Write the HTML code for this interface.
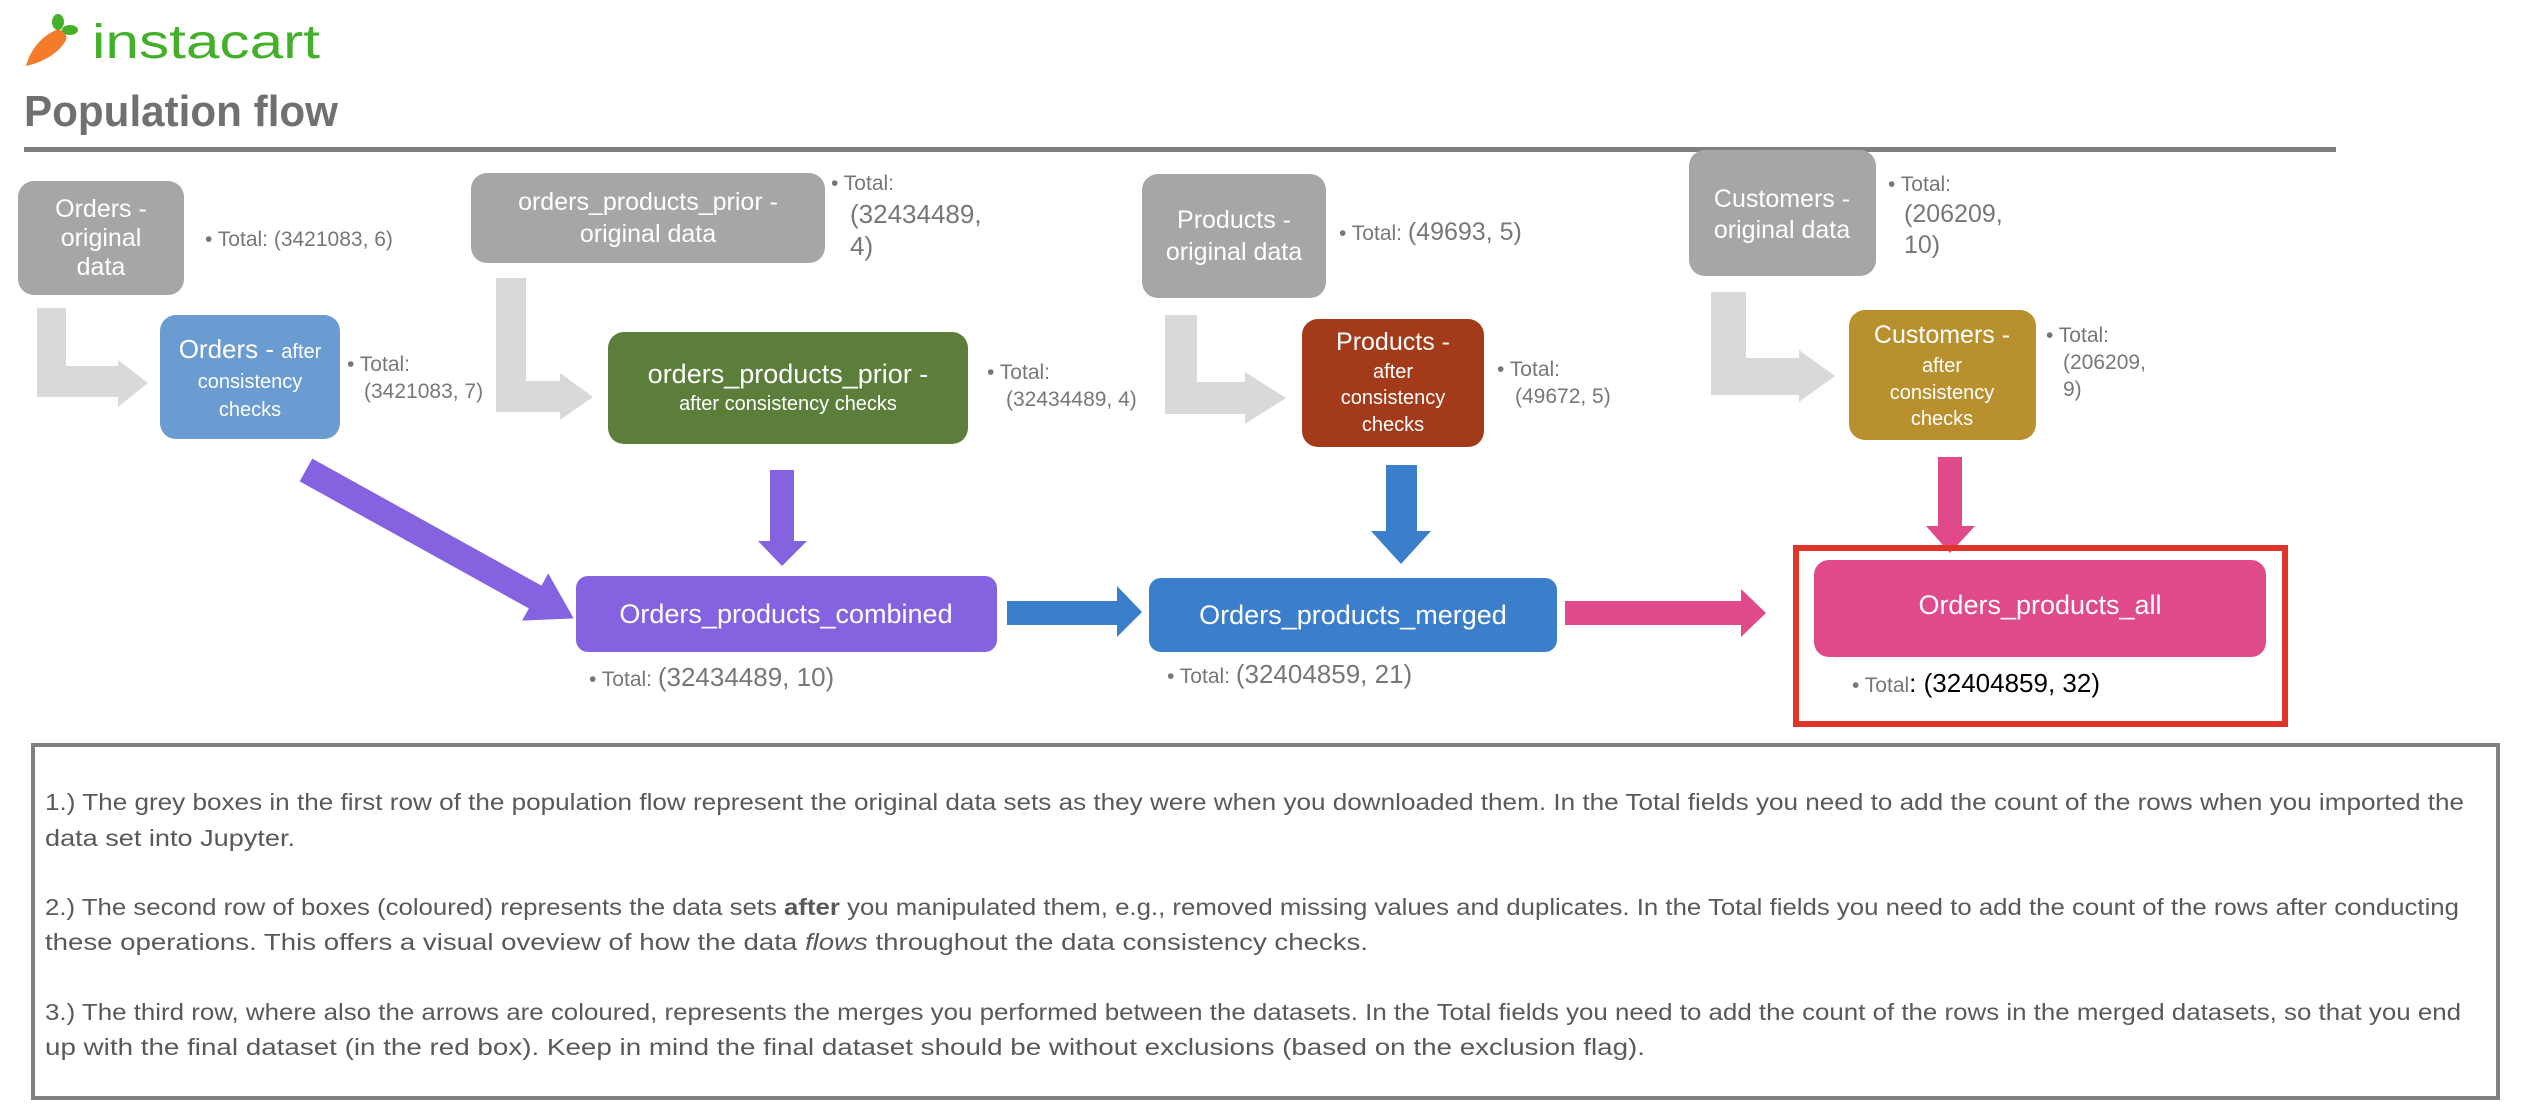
<!DOCTYPE html>
<html><head><meta charset="utf-8">
<style>
html,body{margin:0;padding:0;background:#fff;}
svg{display:block;}
text{font-family:"Liberation Sans",sans-serif;}
</style></head>
<body>
<svg width="2530" height="1118" viewBox="0 0 2530 1118" xmlns="http://www.w3.org/2000/svg">
<!-- logo -->
<path d="M26 66 C30 50 42 36 56 30 C62 28 68 34 66 40 C60 52 44 62 26 66 Z" fill="#f47b2a"/>
<ellipse cx="58" cy="22" rx="6" ry="8" fill="#43b02a"/>
<ellipse cx="70" cy="30" rx="8" ry="5" fill="#43b02a"/>
<text x="92" y="58" font-size="48" fill="#43b02a" textLength="228" lengthAdjust="spacingAndGlyphs">instacart</text>
<text x="24" y="126" font-size="44" font-weight="bold" fill="#707070" textLength="314" lengthAdjust="spacingAndGlyphs">Population flow</text>
<rect x="24" y="147" width="2312" height="5" fill="#808080"/>

<!-- grey L arrows -->
<g fill="#d9d9d9">
<path d="M37 308 H66 V366 H118 V360 L148 383 L118 407 V397 H37 Z"/>
<path d="M496 278 H526 V381 H560 V373 L593 397 L560 420 V412 H496 Z"/>
<path d="M1165 315 H1197 V382 H1245 V372 L1286 398 L1245 424 V414 H1165 Z"/>
<path d="M1711 292 H1746 V358 H1799 V350 L1835 376 L1799 402 V395 H1711 Z"/>
</g>

<!-- coloured arrows -->
<g transform="translate(306,470) rotate(29)">
<path d="M0 -13 H262 V-27 L306 0 L262 27 V13 H0 Z" fill="#8462e0"/>
</g>
<path d="M770 470 H794 V541 H807 L782 566 L758 541 H770 Z" fill="#8462e0"/>
<path d="M1007 601 H1117 V586 L1142 612 L1117 637 V625 H1007 Z" fill="#3a7ecc"/>
<path d="M1386 465 H1417 V531 H1431 L1401 564 L1371 531 H1386 Z" fill="#3a7ecc"/>
<path d="M1565 601 H1741 V589 L1766 613 L1741 637 V625 H1565 Z" fill="#e0498a"/>
<path d="M1938 457 H1962 V526 H1975 L1950 553 L1926 526 H1938 Z" fill="#e0498a"/>

<!-- row 1 grey boxes -->
<g fill="#a6a6a6">
<rect x="18" y="181" width="166" height="114" rx="16"/>
<rect x="471" y="173" width="354" height="90" rx="16"/>
<rect x="1142" y="174" width="184" height="124" rx="16"/>
<rect x="1689" y="150" width="187" height="126" rx="16"/>
</g>
<g fill="#fff" font-size="25" text-anchor="middle">
<text x="101" y="217">Orders -</text><text x="101" y="246">original</text><text x="101" y="275">data</text>
<text x="648" y="210">orders_products_prior -</text><text x="648" y="242">original data</text>
<text x="1234" y="228">Products -</text><text x="1234" y="260">original data</text>
<text x="1782" y="207">Customers -</text><text x="1782" y="238">original data</text>
</g>

<!-- row 2 coloured boxes -->
<rect x="160" y="315" width="180" height="124" rx="16" fill="#6a9bd1"/>
<rect x="608" y="332" width="360" height="112" rx="16" fill="#5b7f3a"/>
<rect x="1302" y="319" width="182" height="128" rx="16" fill="#a33a1a"/>
<rect x="1849" y="310" width="187" height="130" rx="16" fill="#b8902e"/>
<g fill="#fff" text-anchor="middle">
<text x="250" y="358"><tspan font-size="26">Orders - </tspan><tspan font-size="20">after</tspan></text>
<text x="250" y="388" font-size="20">consistency</text>
<text x="250" y="416" font-size="20">checks</text>
<text x="788" y="383" font-size="27">orders_products_prior -</text>
<text x="788" y="410" font-size="20">after consistency checks</text>
<text x="1393" y="350" font-size="25">Products -</text>
<text x="1393" y="378" font-size="20">after</text>
<text x="1393" y="404" font-size="20">consistency</text>
<text x="1393" y="431" font-size="20">checks</text>
<text x="1942" y="343" font-size="25">Customers -</text>
<text x="1942" y="372" font-size="20">after</text>
<text x="1942" y="399" font-size="20">consistency</text>
<text x="1942" y="425" font-size="20">checks</text>
</g>

<!-- row 3 boxes -->
<rect x="576" y="576" width="421" height="76" rx="12" fill="#8462e0"/>
<rect x="1149" y="578" width="408" height="74" rx="12" fill="#3a7ecc"/>
<rect x="1796" y="548" width="489" height="176" fill="none" stroke="#e0332a" stroke-width="6"/>
<rect x="1814" y="560" width="452" height="97" rx="15" fill="#e0498a"/>
<g fill="#fff" text-anchor="middle" font-size="27">
<text x="786" y="623">Orders_products_combined</text>
<text x="1353" y="624">Orders_products_merged</text>
<text x="2040" y="614">Orders_products_all</text>
</g>

<!-- totals -->
<g fill="#777" font-size="21">
<text x="205" y="246">• Total:  (3421083, 6)</text>
<text x="831" y="190">• Total:</text>
<text x="850" y="223" font-size="26">(32434489,</text>
<text x="850" y="255" font-size="26">4)</text>
<text x="1339" y="240">• Total:  <tspan font-size="25">(49693, 5)</tspan></text>
<text x="1888" y="191">• Total:</text>
<text x="1904" y="222" font-size="25">(206209,</text>
<text x="1904" y="253" font-size="25">10)</text>
<text x="347" y="371">• Total:</text>
<text x="364" y="398">(3421083, 7)</text>
<text x="987" y="379">• Total:</text>
<text x="1006" y="406">(32434489, 4)</text>
<text x="1497" y="376">• Total:</text>
<text x="1515" y="403">(49672, 5)</text>
<text x="2046" y="342">• Total:</text>
<text x="2063" y="369">(206209,</text>
<text x="2063" y="396">9)</text>
<text x="589" y="686">• Total: <tspan font-size="26">(32434489, 10)</tspan></text>
<text x="1167" y="683">• Total: <tspan font-size="26">(32404859, 21)</tspan></text>
<text x="1852" y="692">• Total<tspan fill="#000" font-size="26">: (32404859, 32)</tspan></text>
</g>

<!-- bottom text box -->
<rect x="33" y="745" width="2465" height="353" fill="none" stroke="#808080" stroke-width="4"/>
<g fill="#595959" font-size="23">
<text x="45" y="810" textLength="2419" lengthAdjust="spacingAndGlyphs">1.) The grey boxes in the first row of the population flow represent the original data sets as they were when you downloaded them. In the Total fields you need to add the count of the rows when you imported the</text>
<text x="45" y="846" textLength="250" lengthAdjust="spacingAndGlyphs">data set into Jupyter.</text>
<text x="45" y="915" textLength="2414" lengthAdjust="spacingAndGlyphs">2.) The second row of boxes (coloured) represents the data sets <tspan font-weight="bold">after</tspan> you manipulated them, e.g., removed missing values and duplicates. In the Total fields you need to add the count of the rows after conducting</text>
<text x="45" y="950" textLength="1323" lengthAdjust="spacingAndGlyphs">these operations. This offers a visual oveview of how the data <tspan font-style="italic">flows</tspan> throughout the data consistency checks.</text>
<text x="45" y="1020" textLength="2416" lengthAdjust="spacingAndGlyphs">3.) The third row, where also the arrows are coloured, represents the merges you performed between the datasets. In the Total fields you need to add the count of the rows in the merged datasets, so that you end</text>
<text x="45" y="1055" textLength="1600" lengthAdjust="spacingAndGlyphs">up with the final dataset (in the red box). Keep in mind the final dataset should be without exclusions (based on the exclusion flag).</text>
</g>
</svg>
</body></html>
